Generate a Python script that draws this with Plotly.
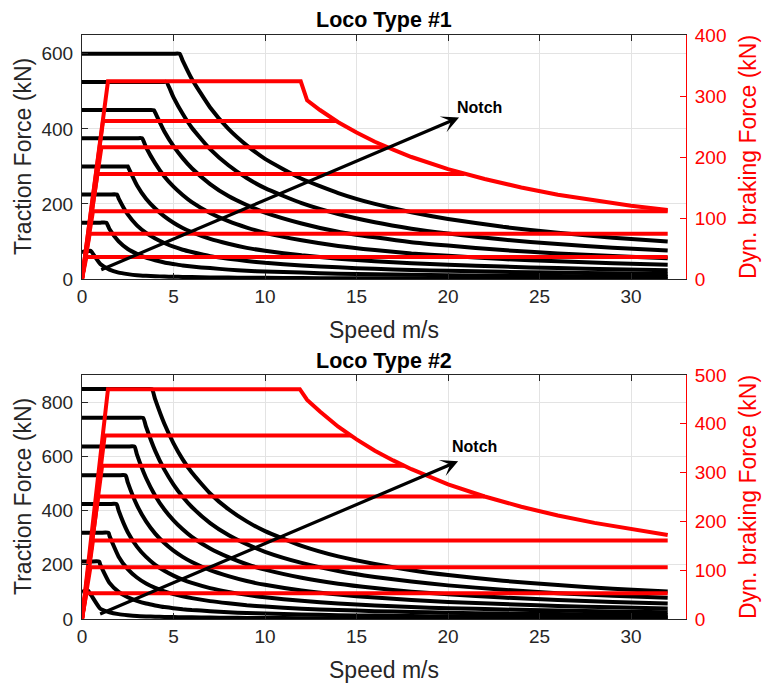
import plotly.graph_objects as go
from plotly.subplots import make_subplots

# ---------------- data ----------------
speed_grid = [0, 0.5, 1, 1.5, 2, 2.5, 3, 3.5, 4, 4.5, 5, 5.5, 6, 7, 8, 9, 10,
              12, 14, 16, 18, 20, 23, 26, 29, 32]

# Loco type #1 : traction force (kN) per notch, sampled on speed_grid
loco1_notch_force = [75, 150, 225, 300, 375, 450, 525, 600]
loco1_corner_speed = [0.45, 1.33, 1.91, 2.5, 3.28, 3.93, 4.61, 5.33]
loco1_traction = [
    [72, 74, 40, 25, 17, 13, 10, 8.5, 7.5, 6.5, 6, 5.5, 5, 4.3, 3.8, 3.3, 3, 2.5, 2.1, 1.9, 1.7, 1.5, 1.3, 1.2, 1.1, 1.0],
    [150, 150, 150, 133, 100, 80, 67, 57, 50, 44, 40, 36, 33, 29, 25, 22, 20, 17, 14, 12.5, 11, 10, 9, 8, 7, 6],
    [225, 225, 225, 225, 215, 172, 143, 123, 108, 96, 86, 78, 72, 61, 54, 48, 43, 36, 31, 27, 24, 22, 19, 17, 15, 13],
    [300, 300, 300, 300, 300, 300, 250, 214, 188, 167, 150, 136, 125, 107, 94, 83, 75, 63, 54, 47, 42, 38, 33, 29, 26, 23],
    [375, 375, 375, 375, 375, 375, 375, 351, 308, 273, 246, 224, 205, 176, 154, 137, 123, 103, 88, 77, 68, 62, 53, 47, 42, 38],
    [450, 450, 450, 450, 450, 450, 450, 450, 443, 393, 354, 322, 295, 253, 221, 197, 177, 148, 126, 111, 98, 89, 77, 68, 61, 55],
    [525, 525, 525, 525, 525, 525, 525, 525, 525, 525, 484, 440, 403, 346, 303, 269, 242, 202, 173, 151, 134, 121, 105, 93, 83, 76],
    [600, 600, 600, 600, 600, 600, 600, 600, 600, 600, 600, 582, 533, 457, 400, 356, 320, 267, 229, 200, 178, 160, 139, 123, 110, 100],
]

# Loco type #1 : dynamic braking force (kN)
loco1_brake_level = [36, 74, 111, 172, 216, 259, 324]
loco1_brake_ramp_speed = [0.24, 0.42, 0.6, 0.84, 1.06, 1.15, 1.42]
loco1_brake_end_speed = [32, 32, 32, 20.9, 16.7, 13.9, 11.95]
loco1_envelope_speed = [12.3, 13, 14, 15, 16, 17, 18, 20, 22, 24, 26, 28, 30, 32]
loco1_envelope_force = [293, 277, 257, 240, 225, 212, 200, 180, 164, 150, 138, 129, 120, 113]

# Loco type #2 : traction force (kN) per notch, sampled on speed_grid
loco2_notch_force = [106, 212, 318, 424, 530, 636, 742, 848]
loco2_corner_speed = [0.3, 0.94, 1.45, 1.89, 2.38, 2.87, 3.34, 3.82]
loco2_traction = [
    [100, 88, 38, 25, 18, 14, 11, 9.5, 8.5, 7.5, 7, 6.5, 6, 5.2, 4.6, 4.1, 3.7, 3.1, 2.7, 2.4, 2.2, 2, 1.8, 1.6, 1.5, 1.4],
    [212, 212, 200, 133, 100, 80, 67, 57, 50, 44, 40, 36, 33, 29, 25, 22, 20, 17, 14, 12.5, 11, 10, 9, 8, 7, 6],
    [318, 318, 318, 307, 230, 184, 153, 131, 115, 102, 92, 84, 77, 66, 58, 51, 46, 38, 33, 29, 26, 23, 20, 18, 16, 14],
    [424, 424, 424, 424, 400, 320, 267, 229, 200, 178, 160, 145, 133, 114, 100, 89, 80, 67, 57, 50, 44, 40, 35, 31, 28, 25],
    [530, 530, 530, 530, 530, 504, 420, 360, 315, 280, 252, 229, 210, 180, 158, 140, 126, 105, 90, 79, 70, 63, 55, 48, 43, 39],
    [636, 636, 636, 636, 636, 636, 607, 520, 455, 404, 364, 331, 303, 260, 228, 202, 182, 152, 130, 114, 101, 91, 79, 70, 63, 57],
    [742, 742, 742, 742, 742, 742, 742, 709, 620, 551, 496, 451, 413, 354, 310, 276, 248, 207, 177, 155, 138, 124, 108, 95, 86, 78],
    [848, 848, 848, 848, 848, 848, 848, 848, 810, 720, 648, 589, 540, 463, 405, 360, 324, 270, 231, 203, 180, 162, 141, 125, 112, 101],
]

# Loco type #2 : dynamic braking force (kN)
loco2_brake_level = [53, 106, 161, 251, 314, 376, 471]
loco2_brake_ramp_speed = [0.24, 0.46, 0.6, 0.88, 1.1, 1.24, 1.42]
loco2_brake_end_speed = [32, 32, 32, 22, 17.6, 14.7, 11.9]
loco2_envelope_speed = [12.3, 13, 14, 15, 16, 17, 18, 20, 22, 24, 26, 28, 30, 32]
loco2_envelope_force = [449, 425, 394, 368, 345, 325, 307, 276, 251, 230, 212, 197, 184, 172]

# Notch arrows: (start speed, start force) -> (tip speed, tip force), label position
loco1_arrow = [0.97, 23, 20.6, 430]
loco1_label = [21.74, 458]
loco2_arrow = [0.91, 16, 20.55, 582]
loco2_label = [21.43, 636]

titles = ["Loco Type #1", "Loco Type #2"]
x_ticks = [0, 5, 10, 15, 20, 25, 30]

# ---------------- figure ----------------
FONT = "Liberation Sans, Arial, Helvetica, sans-serif"
BLACK = "#000000"
RED = "#ff0000"
LW = 4.0

fig = make_subplots(rows=2, cols=1, specs=[[{"secondary_y": True}], [{"secondary_y": True}]])


def add_loco(row, forces, corners, table, levels, ramp, ends, env_s, env_f):
    for F, vc, row_vals in zip(forces, corners, table):
        pts = sorted(list(zip(speed_grid, row_vals)) + [(vc, F)], key=lambda p: p[0])
        fig.add_trace(go.Scatter(x=[p[0] for p in pts], y=[p[1] for p in pts], mode="lines",
                                 line=dict(color=BLACK, width=LW, shape="spline", smoothing=0.5),
                                 showlegend=False, hoverinfo="skip"),
                      row=row, col=1, secondary_y=False)
    n = len(levels)
    for i, (L, vr, ve) in enumerate(zip(levels, ramp, ends)):
        xs = [0, vr, ve]
        ys = [0, L, L]
        if i == n - 1:
            xs = xs + env_s
            ys = ys + env_f
        fig.add_trace(go.Scatter(x=xs, y=ys, mode="lines",
                                 line=dict(color=RED, width=LW), showlegend=False,
                                 hoverinfo="skip"), row=row, col=1, secondary_y=True)


add_loco(1, loco1_notch_force, loco1_corner_speed, loco1_traction, loco1_brake_level,
         loco1_brake_ramp_speed, loco1_brake_end_speed, loco1_envelope_speed, loco1_envelope_force)
add_loco(2, loco2_notch_force, loco2_corner_speed, loco2_traction, loco2_brake_level,
         loco2_brake_ramp_speed, loco2_brake_end_speed, loco2_envelope_speed, loco2_envelope_force)

W, H = 762, 686
ML, MR, MT, MB = 82, 76, 35, 67
plot_h = H - MT - MB
top_dom = [(619 - 279) / plot_h, 1.0]
bot_dom = [0.0, (619 - 375) / plot_h]

common_x = dict(range=[0, 33], tickvals=x_ticks, ticks="inside", ticklen=6, tickwidth=1,
                tickcolor="#262626", showline=True, linecolor="#262626", linewidth=1,
                mirror="ticks", showgrid=True, gridcolor="#e3e3e3", gridwidth=1,
                zeroline=False, tickfont=dict(family=FONT, size=19, color="#262626"))
common_yl = dict(ticks="inside", ticklen=6, tickwidth=1, tickcolor="#262626", showline=True,
                 linecolor="#262626", linewidth=1, showgrid=True, gridcolor="#e3e3e3",
                 gridwidth=1, zeroline=False, ticklabelstandoff=4,
                 tickfont=dict(family=FONT, size=19, color="#262626"))
common_yr = dict(ticks="inside", ticklen=6, tickwidth=1, tickcolor=RED, showline=True,
                 linecolor=RED, linewidth=1, showgrid=False, zeroline=False, side="right",
                 ticklabelstandoff=4, tickfont=dict(family=FONT, size=19, color=RED))

fig.update_layout(
    width=W, height=H, margin=dict(l=ML, r=MR, t=MT, b=MB, pad=0),
    paper_bgcolor="white", plot_bgcolor="white", showlegend=False,
    xaxis=dict(common_x, domain=[0, 1], anchor="y"),
    xaxis2=dict(common_x, domain=[0, 1], anchor="y3"),
    yaxis=dict(common_yl, domain=top_dom, range=[0, 650], tickvals=[0, 200, 400, 600]),
    yaxis2=dict(common_yr, domain=top_dom, range=[0, 400], tickvals=[0, 100, 200, 300, 400],
                overlaying="y", anchor="x"),
    yaxis3=dict(common_yl, domain=bot_dom, range=[0, 900], tickvals=[0, 200, 400, 600, 800]),
    yaxis4=dict(common_yr, domain=bot_dom, range=[0, 500], tickvals=[0, 100, 200, 300, 400, 500],
                overlaying="y3", anchor="x2"),
)


def ypaper(px):
    return (H - MB - px) / plot_h


def xpaper(px):
    return (px - ML) / (W - ML - MR)


annotations = []
for t, py in zip(titles, [20, 361]):
    annotations.append(dict(text="<b>%s</b>" % t, x=0.5, y=ypaper(py), xref="paper", yref="paper",
                            showarrow=False, xanchor="center", yanchor="middle",
                            font=dict(family=FONT, size=21.5, color=BLACK)))
for py in [330, 670]:
    annotations.append(dict(text="Speed m/s", x=0.5, y=ypaper(py), xref="paper", yref="paper",
                            showarrow=False, xanchor="center", yanchor="middle",
                            font=dict(family=FONT, size=23, color="#262626")))
for py in [157, 497]:
    annotations.append(dict(text="Traction Force (kN)", x=xpaper(23), y=ypaper(py), xref="paper",
                            yref="paper", showarrow=False, textangle=-90, xanchor="center",
                            yanchor="middle", font=dict(family=FONT, size=23, color="#262626")))
    annotations.append(dict(text="Dyn. braking Force (kN)", x=xpaper(748), y=ypaper(py),
                            xref="paper", yref="paper", showarrow=False, textangle=-90,
                            xanchor="center", yanchor="middle",
                            font=dict(family=FONT, size=23, color=RED)))

for arrow, label, xr, yr in [(loco1_arrow, loco1_label, "x", "y"),
                             (loco2_arrow, loco2_label, "x2", "y3")]:
    annotations.append(dict(x=arrow[2], y=arrow[3], ax=arrow[0], ay=arrow[1], xref=xr, yref=yr,
                            axref=xr, ayref=yr, text="", showarrow=True, arrowhead=3,
                            arrowsize=0.9, arrowwidth=3.2, arrowcolor=BLACK, standoff=0))
    annotations.append(dict(x=label[0], y=label[1], xref=xr, yref=yr, text="<b>Notch</b>",
                            showarrow=False, xanchor="center", yanchor="middle",
                            font=dict(family=FONT, size=16, color=BLACK)))

fig.update_layout(annotations=annotations)

fig.write_html("out.html")
